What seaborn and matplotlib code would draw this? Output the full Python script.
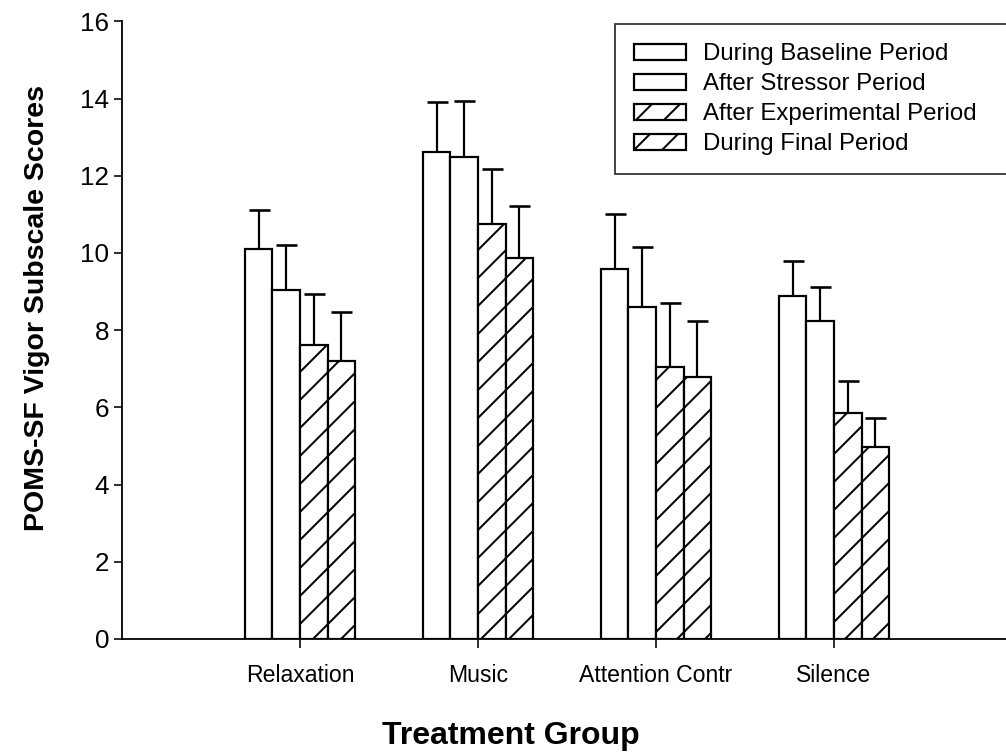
import numpy as np
import pandas as pd
import matplotlib
matplotlib.use("Agg")
import matplotlib.pyplot as plt
import seaborn as sns

groups = ["Relaxation", "Music", "Attention Contr", "Silence"]
periods = ["During Baseline Period", "After Stressor Period",
           "After Experimental Period", "During Final Period"]
baseline = [10.10, 12.61, 9.59, 8.89]
stressor = [9.04, 12.49, 8.59, 8.24]
experimental = [7.62, 10.74, 7.05, 5.86]
final = [7.20, 9.87, 6.80, 4.97]
baseline_err = [1.01, 1.29, 1.42, 0.91]
stressor_err = [1.18, 1.46, 1.57, 0.88]
experimental_err = [1.32, 1.43, 1.65, 0.83]
final_err = [1.28, 1.35, 1.45, 0.76]
yticks = [0, 2, 4, 6, 8, 10, 12, 14, 16]

means = [baseline, stressor, experimental, final]
errs = [baseline_err, stressor_err, experimental_err, final_err]
hatches = ["", "", "//", "//"]

rows = []
for p, vals in zip(periods, means):
    for g, v in zip(groups, vals):
        rows.append({"group": g, "period": p, "score": v})
df = pd.DataFrame(rows)

DPI = 168
W, H = 1006, 754
def P(px):
    return px * 72.0 / DPI

sns.set_style("ticks")
plt.rcParams["font.family"] = ["Liberation Sans", "DejaVu Sans"]
plt.rcParams["hatch.linewidth"] = P(2.0)
plt.rcParams["hatch.color"] = "black"
plt.rcParams["text.color"] = "black"
plt.rcParams["axes.labelcolor"] = "black"
plt.rcParams["xtick.color"] = "black"
plt.rcParams["ytick.color"] = "black"

fig = plt.figure(figsize=(W / DPI, H / DPI), dpi=DPI)
left, bottom, top = 122, 639, 21.4
unit = 178.0
right = 300 + 4 * unit
ax = fig.add_axes([left / W, 1 - bottom / H, (right - left) / W, (bottom - top) / H])

sns.barplot(data=df, x="group", y="score", hue="period", order=groups,
            hue_order=periods, width=0.62, palette=["white"] * 4,
            edgecolor="black", linewidth=P(2.2), errorbar=None, legend=False, ax=ax,
            zorder=2)

bar_containers = list(ax.containers)
for cont, h, e in zip(bar_containers, hatches, errs):
    xs = []
    ys = []
    for bar in cont.patches:
        bar.set_hatch(h)
        bar.set_facecolor("white")
        bar.set_edgecolor("black")
        xs.append(bar.get_x() + bar.get_width() / 2)
        ys.append(bar.get_height())
    ax.errorbar(xs, ys, yerr=[np.zeros(len(e)), e], fmt="none", ecolor="black",
                elinewidth=P(2.2), capsize=P(10.5), capthick=P(2.6), zorder=1)

ax.set_xlim(-1, 4)
ax.set_ylim(0, 16)
ax.set_yticks(yticks)
ax.set_yticklabels([str(t) for t in yticks])
for s in ["top", "right"]:
    ax.spines[s].set_visible(False)
for s in ["left", "bottom"]:
    ax.spines[s].set_linewidth(P(1.8))
    ax.spines[s].set_color("black")
ax.tick_params(axis="y", direction="out", length=P(8), width=P(1.6),
               labelsize=P(26), pad=P(5), colors="black")
ax.tick_params(axis="x", direction="out", length=P(9), width=P(1.6),
               labelsize=P(23), pad=P(16), colors="black")
ax.set_xlabel("Treatment Group", fontsize=P(32), fontweight="bold")
ax.xaxis.set_label_coords((511 - left) / (right - left), (bottom - 721) / (bottom - top))
ax.set_ylabel("POMS-SF Vigor Subscale Scores", fontsize=P(28.5), fontweight="bold")
ax.yaxis.set_label_coords((50 - left) / (right - left), (bottom - 308) / (bottom - top))

handles = [c.patches[0] for c in bar_containers]
leg = fig.legend(handles, periods, loc="upper left",
                 bbox_to_anchor=(615 / W, 1 - 25 / H, (1030 - 615) / W, 0.001),
                 mode="expand", fontsize=P(24), frameon=True, fancybox=False,
                 edgecolor="black", handlelength=2.15, handleheight=0.62,
                 labelspacing=0.33, handletextpad=0.72, borderpad=0.8,
                 borderaxespad=0)
leg.get_frame().set_linewidth(P(1.8))

fig.savefig("out.png", dpi=DPI)
